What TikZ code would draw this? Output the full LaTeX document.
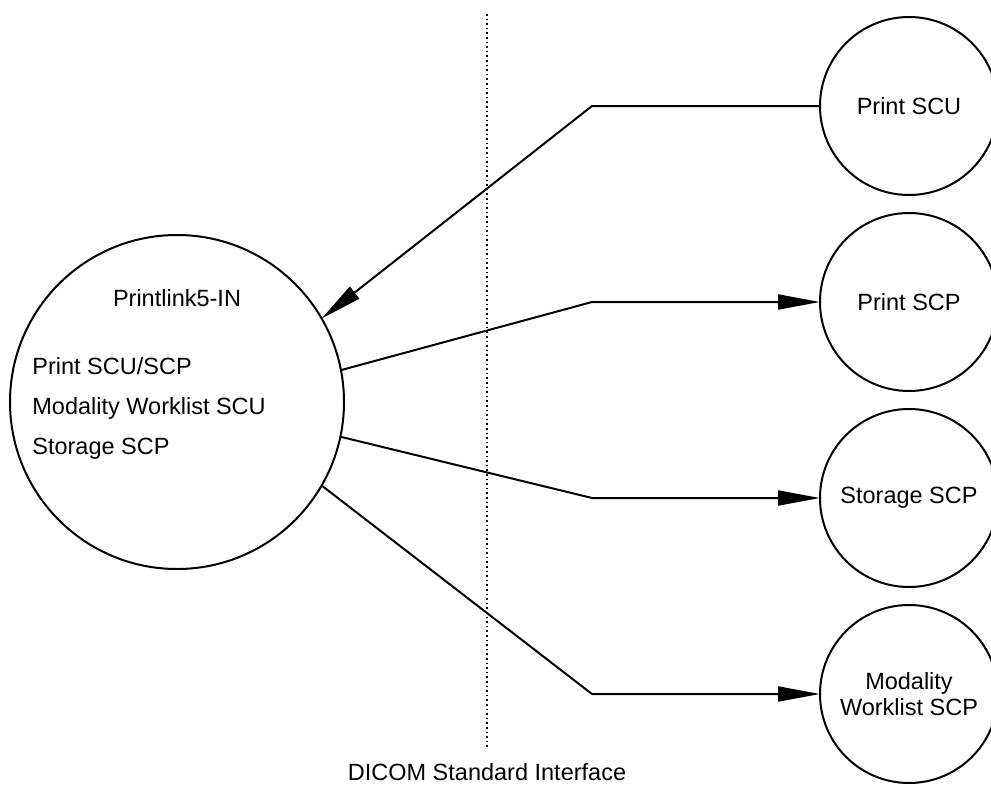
\documentclass[tikz,border=0pt]{standalone}
\usepackage{fontspec}
\setmainfont{Liberation Sans}
\usetikzlibrary{arrows.meta, positioning, calc}

\begin{document}
\begin{tikzpicture}[
    x=0.5pt, y=-0.5pt,
    bigcircle/.style={draw=black, line width=1pt, circle, minimum size=167pt, inner sep=0pt, outer sep=0pt},
    service/.style={draw=black, line width=1pt, circle, minimum size=89pt, inner sep=0pt, outer sep=0pt, align=center, font=\fontsize{11.75}{13}\selectfont},
    txt/.style={inner sep=0pt, font=\fontsize{11.75}{14}\selectfont},
    edge/.style={line width=1pt},
    arrowedge/.style={edge, -{Triangle[length=21pt, width=7.5pt]}},
    interface/.style={line width=0.8pt, dash pattern=on 0.8pt off 1.5pt}
]
\useasboundingbox (0,0) rectangle (991,787);

% Knoten
\node[bigcircle] (pl) at (177,402) {};
\node[txt] (plname) at (177,298) {Printlink5-IN};
\node[txt, align=left, anchor=west, font=\fontsize{11.75}{20}\selectfont] (plservices) at (32,408) {Print SCU/SCP\\Modality Worklist SCU\\Storage SCP};
\node[service] (printscu) at (909,106) {Print SCU};
\node[service, below=9pt of printscu] (printscp) {Print SCP};
\node[service, below=9pt of printscp] (storescp) {Storage SCP};
\node[service, below=9pt of storescp] (mwlscp) {Modality\\Worklist SCP};

% Schnittstelle
\coordinate (ifacetop) at (487,14);
\coordinate (ifacebot) at (487,748);
\node[txt] (iface) at (487,772) {DICOM Standard Interface};
\draw[interface] (ifacetop) -- (ifacebot);

% Kanten
\coordinate (knick) at (592,0);
\draw[arrowedge] (printscu.west) -- (printscu.west -| knick) -- (pl.30);
\draw[arrowedge] (pl.11) -- (printscp.west -| knick) -- (printscp.west);
\draw[arrowedge] (pl.-12) -- (storescp.west -| knick) -- (storescp.west);
\draw[arrowedge] (pl.-30) -- (mwlscp.west -| knick) -- (mwlscp.west);

\end{tikzpicture}
\end{document}
